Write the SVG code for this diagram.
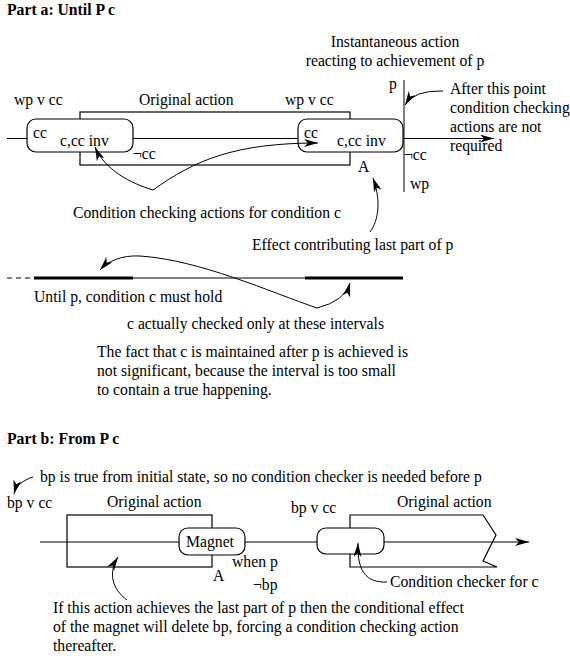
<svg xmlns="http://www.w3.org/2000/svg" width="570" height="661" viewBox="0 0 570 661">
<style>
text{font-family:"Liberation Serif","Times New Roman",serif;font-size:15.7px;fill:#000}
.b{font-weight:bold}
.m{text-anchor:middle}
.ln{fill:none;stroke:#000;stroke-width:1}
.box{fill:none;stroke:#000;stroke-width:1.2}
.rr{fill:#fff;stroke:#000;stroke-width:1.2}
.thick{stroke:#000;stroke-width:3.2}
</style>
<defs>
<marker id="ah" markerUnits="userSpaceOnUse" markerWidth="16" markerHeight="10" refX="14" refY="4" orient="auto">
<path d="M0,0 L14,4 L0,8 L4,4 Z" fill="#000"/>
</marker>
</defs>
<rect width="570" height="661" fill="#fff"/>

<text class="b" x="7" y="15">Part a: Until P c</text>

<g id="a-original-action">
<rect class="box" x="80" y="112" width="270" height="53"/>
<text x="139" y="105">Original action</text>
</g>
<g id="a-checker-1">
<rect class="rr" x="27" y="119" width="106" height="33" rx="9"/>
<text x="33" y="138">cc</text>
<text x="60" y="146">c,cc inv</text>
</g>
<g id="a-checker-2">
<rect class="rr" x="298" y="119" width="105" height="33" rx="9"/>
<text x="304" y="138">cc</text>
<text x="337" y="146">c,cc inv</text>
</g>
<g id="a-labels">
<text x="14" y="105">wp v cc</text>
<text x="285" y="105">wp v cc</text>
<text class="m" x="395" y="47">Instantaneous action</text>
<text class="m" x="395" y="66">reacting to achievement of p</text>
<text x="389" y="89">p</text>
<text x="450" y="94">After this point</text>
<text x="450" y="113">condition checking</text>
<text x="450" y="132">actions are not</text>
<text x="450" y="151">required</text>
<text x="133" y="159">¬cc</text>
<text x="404" y="160">¬cc</text>
<text x="358" y="172">A</text>
<text x="410" y="189">wp</text>
<text x="73" y="218">Condition checking actions for condition c</text>
<text x="252" y="250">Effect contributing last part of p</text>
<text x="34" y="302">Until p, condition c must hold</text>
<text x="127" y="329">c actually checked only at these intervals</text>
<text x="97" y="357">The fact that c is maintained after p is achieved is</text>
<text x="97" y="376">not significant, because the interval is too small</text>
<text x="97" y="395">to contain a true happening.</text>
</g>

<text class="b" x="7" y="444">Part b: From P c</text>

<g id="b-original-action-1">
<rect class="box" x="67" y="515" width="145" height="52"/>
<text x="107" y="507">Original action</text>
</g>
<g id="b-original-action-2">
<path class="box" d="M483,515 L350,515 L350,567 L497,567 L483,561 L496,535 Z"/>
<text x="397" y="507">Original action</text>
</g>
<g id="b-magnet">
<rect class="rr" x="179" y="528" width="66" height="27" rx="9"/>
<text class="m" x="210" y="547">Magnet</text>
</g>
<g id="b-checker">
<rect class="rr" x="317" y="528" width="67" height="26" rx="9"/>
</g>
<g id="b-labels">
<text x="40" y="482">bp is true from initial state, so no condition checker is needed before p</text>
<text x="7" y="508">bp v cc</text>
<text x="291" y="513">bp v cc</text>
<text x="232" y="567">when p</text>
<text x="213" y="581">A</text>
<text x="253" y="590">¬bp</text>
<text x="390" y="587">Condition checker for c</text>
<text x="53" y="613">If this action achieves the last part of p then the conditional effect</text>
<text x="53" y="632">of the magnet will delete bp, forcing a condition checking action</text>
<text x="53" y="651">thereafter.</text>
</g>

<g id="connectors">
<line class="ln" x1="7" y1="138.5" x2="27" y2="138.5"/>
<line class="ln" x1="133" y1="138.5" x2="298" y2="138.5"/>
<line class="ln" x1="403" y1="138.5" x2="494" y2="138.5" marker-end="url(#ah)"/>
<line class="ln" x1="404" y1="80" x2="404" y2="192"/>
<path class="ln" d="M443,91 Q414,90 405,105" marker-end="url(#ah)"/>
<path class="ln" d="M153,190 C130,183 105,170 95,147" marker-end="url(#ah)"/>
<path class="ln" d="M153,190 C195,160 235,143 318,143" marker-end="url(#ah)"/>
<path class="ln" d="M370,232 C379,220 381,200 373,178" marker-end="url(#ah)"/>
<line class="ln" x1="7" y1="278" x2="33" y2="278" stroke-dasharray="5,4"/>
<line class="thick" x1="34" y1="278" x2="133" y2="278"/>
<line class="ln" x1="133" y1="278" x2="305" y2="278"/>
<line class="thick" x1="305" y1="278" x2="403" y2="278"/>
<path class="ln" d="M317,308 C270,292 200,260 140,256 C122,255 108,261 100,270" marker-end="url(#ah)"/>
<path class="ln" d="M317,308 Q345,301 350,283" marker-end="url(#ah)"/>
<line class="ln" x1="40" y1="542" x2="179" y2="542"/>
<line class="ln" x1="245" y1="542" x2="317" y2="542"/>
<line class="ln" x1="384" y1="542" x2="529" y2="542" marker-end="url(#ah)"/>
<path class="ln" d="M33,477 C23,480 16,486 14,494" marker-end="url(#ah)"/>
<path class="ln" d="M127,600 C112,589 108,573 118,557" marker-end="url(#ah)"/>
<path class="ln" d="M387,582 C366,583 357,571 358,543" marker-end="url(#ah)"/>
</g>
</svg>
